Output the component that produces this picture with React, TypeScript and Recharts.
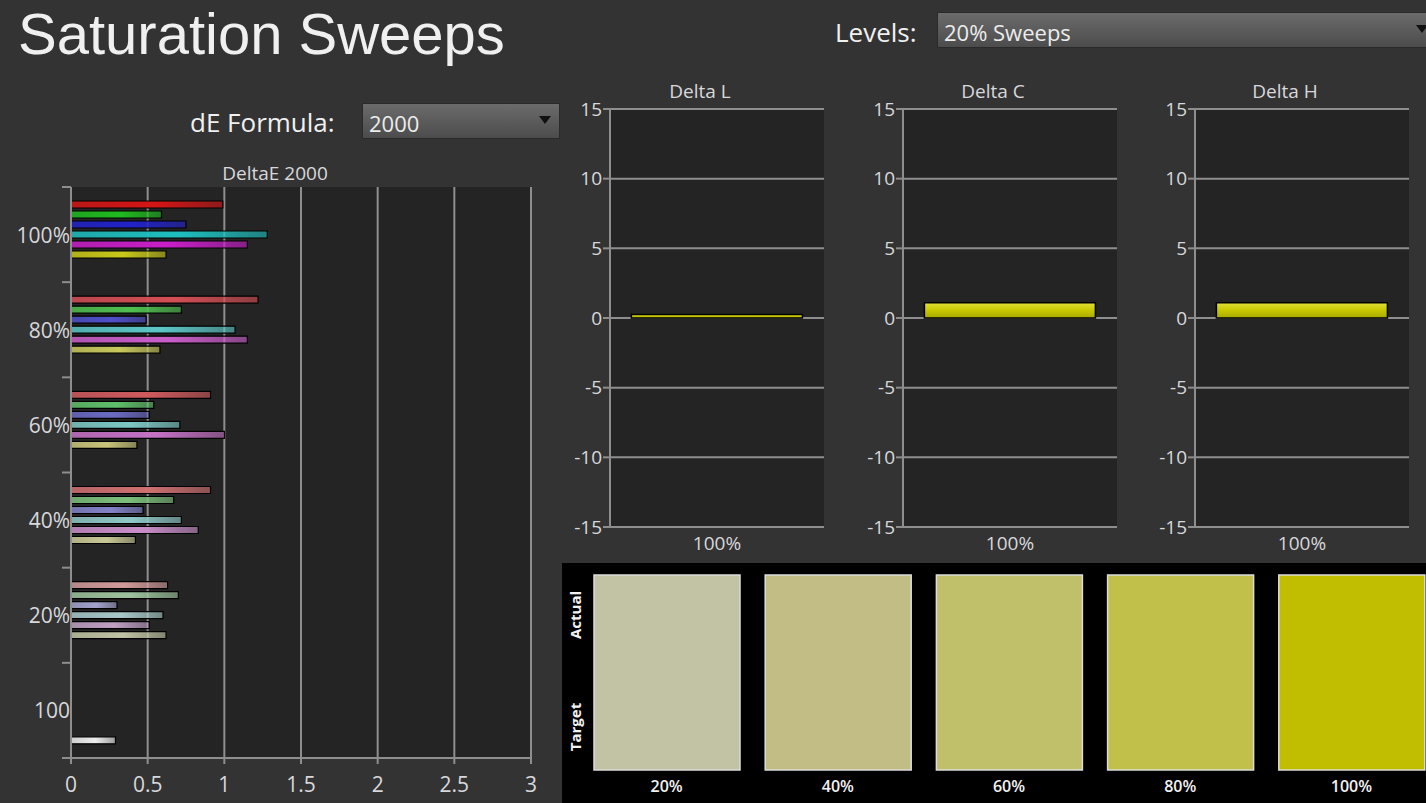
import React from "react";
import { Bar, BarChart, CartesianGrid, Cell, XAxis, YAxis } from "recharts";

// DeltaE 2000 per saturation level, one array per colour series
const LEVELS = ["100%", "80%", "60%", "40%", "20%", "100"];
const SERIES = ["red", "green", "blue", "cyan", "magenta", "yellow", "white"];
const RED = [0.99, 1.22, 0.91, 0.91, 0.63, null];
const GREEN = [0.59, 0.72, 0.54, 0.67, 0.7, null];
const BLUE = [0.75, 0.49, 0.51, 0.47, 0.3, null];
const CYAN = [1.28, 1.07, 0.71, 0.72, 0.6, null];
const MAGENTA = [1.15, 1.15, 1.0, 0.83, 0.51, null];
const YELLOW = [0.62, 0.58, 0.43, 0.42, 0.62, null];
const WHITE = [null, null, null, null, null, 0.29];
const DE_TICKS = [0, 0.5, 1, 1.5, 2, 2.5, 3];

// Delta L / C / H at 100% yellow
const DELTA_NAMES = ["Delta L", "Delta C", "Delta H"];
const DELTA_VALUES = [0.25, 1.1, 1.1];
const DELTA_CATEGORY = "100%";
const DELTA_TICKS = [-15, -10, -5, 0, 5, 10, 15];

// actual / target swatches
const SWATCH_LEVELS = ["20%", "40%", "60%", "80%", "100%"];
const SWATCH_COLORS = ["#c2c3a5", "#c1bd85", "#c0bf6a", "#c0c04b", "#c1bd00"];

const PALETTE: Record<string, string[]> = {
  red: ["#d41515", "#d44e55", "#cf5a5e", "#d07070", "#d09a9a", "#d09a9a"],
  green: ["#1fbb1f", "#4fbf4f", "#5fbf6a", "#7cbf7c", "#9dc39d", "#9dc39d"],
  blue: ["#2222c8", "#4f4fc8", "#6a6ac4", "#8282c8", "#a2a2cc", "#a2a2cc"],
  cyan: ["#1fbfbf", "#5cc6c6", "#7cc8c4", "#8ec8c6", "#a8c8c8", "#a8c8c8"],
  magenta: ["#c81ec8", "#c95ec9", "#c572c5", "#c98ec9", "#c0a0c4", "#c0a0c4"],
  yellow: ["#c8c81a", "#c8c85e", "#c8c47a", "#c8c896", "#c0c4a4", "#c0c4a4"],
  white: ["#e8e8e8", "#e8e8e8", "#e8e8e8", "#e8e8e8", "#e8e8e8", "#ececec"],
};

const PAGE_BG = "#333333";
const PLOT_BG = "#242424";
const GRID = "#8e8e8e";
const TEXT = "#d8d8dc";
const FONT = "'Open Sans', 'Noto Sans', sans-serif";
const TITLE_FONT = "'Liberation Sans', Arial, sans-serif";

const DE_PLOT_H = 571;
const DE_BAND = DE_PLOT_H / LEVELS.length;

const deData = LEVELS.map((level, i) => ({
  level,
  red: RED[i],
  green: GREEN[i],
  blue: BLUE[i],
  cyan: CYAN[i],
  magenta: MAGENTA[i],
  yellow: YELLOW[i],
  white: WHITE[i],
}));

// text placed by its baseline (Open Sans, line height 1.1)
function Text({
  x,
  baseline,
  size,
  children,
  color = TEXT,
  weight = 400,
  anchor = "left",
}: {
  x: number;
  baseline: number;
  size: number;
  children: React.ReactNode;
  color?: string;
  weight?: number;
  anchor?: "left" | "center";
}) {
  return (
    <div
      style={{
        position: "absolute",
        left: anchor === "center" ? x - 200 : x,
        width: anchor === "center" ? 400 : undefined,
        textAlign: anchor === "center" ? "center" : "left",
        top: baseline - 0.938 * size,
        fontSize: size,
        lineHeight: 1.1,
        color,
        fontWeight: weight,
        whiteSpace: "nowrap",
      }}
    >
      {children}
    </div>
  );
}

function Dropdown({
  left,
  top,
  width,
  label,
}: {
  left: number;
  top: number;
  width: number;
  label: string;
}) {
  return (
    <div
      style={{
        position: "absolute",
        left,
        top,
        width,
        height: 36,
        background: "linear-gradient(#6b6b6b, #4c4c4c)",
        border: "1px solid #2a2a2a",
        boxSizing: "border-box",
        color: "#ececec",
        fontSize: 22,
      }}
    >
      <div style={{ position: "absolute", left: 6, top: 4, lineHeight: "normal" }}>
        {label}
      </div>
      <div
        style={{
          position: "absolute",
          right: 8,
          top: 12,
          width: 0,
          height: 0,
          borderLeft: "6px solid transparent",
          borderRight: "6px solid transparent",
          borderTop: "8px solid #111",
        }}
      />
    </div>
  );
}

function LevelTick(props: any) {
  const { x, y, payload, index } = props;
  const ax = x + 1;
  return (
    <g>
      <line
        x1={ax - 9}
        x2={ax}
        y1={y - DE_BAND / 2}
        y2={y - DE_BAND / 2}
        stroke={GRID}
        strokeWidth={2}
      />
      {index === LEVELS.length - 1 && (
        <line
          x1={ax - 9}
          x2={ax}
          y1={y + DE_BAND / 2}
          y2={y + DE_BAND / 2}
          stroke={GRID}
          strokeWidth={2}
        />
      )}
      <text
        x={x}
        y={y}
        dy={8}
        textAnchor="end"
        fill={TEXT}
        fontSize={21}
        fontFamily={FONT}
      >
        {payload.value}
      </text>
    </g>
  );
}

function DeltaEChart() {
  return (
    <div style={{ position: "absolute", left: 0, top: 150 }}>
      <BarChart
        width={560}
        height={653}
        data={deData}
        layout="vertical"
        margin={{ top: 37, right: 29, bottom: 15, left: 8 }}
        barSize={7}
        barGap={3}
      >
        <defs>
          {SERIES.map((s) =>
            PALETTE[s].map((c, i) => (
              <linearGradient
                key={`${s}-${i}`}
                id={`de-${s}-${i}`}
                x1="0"
                x2="1"
                y1="0"
                y2="0"
              >
                <stop offset="0" stopColor={c} stopOpacity={0.85} />
                <stop offset="0.55" stopColor={c} />
                <stop offset="1" stopColor={c} stopOpacity={0.6} />
              </linearGradient>
            ))
          )}
        </defs>
        <CartesianGrid
          horizontal={false}
          fill={PLOT_BG}
          stroke={GRID}
          strokeWidth={2}
        />
        <XAxis
          type="number"
          domain={[0, 3]}
          ticks={DE_TICKS}
          interval={0}
          height={30}
          tickSize={6}
          tickMargin={13}
          axisLine={{ stroke: GRID, strokeWidth: 2 }}
          tickLine={{ stroke: GRID, strokeWidth: 2 }}
          tick={{ fill: TEXT, fontSize: 21, fontFamily: FONT }}
        />
        <XAxis
          xAxisId="top"
          orientation="top"
          type="number"
          domain={[0, 3]}
          height={0}
          tick={false}
          tickLine={false}
          axisLine={{ stroke: GRID, strokeWidth: 2 }}
        />
        <YAxis
          type="category"
          dataKey="level"
          width={63}
          interval={0}
          tickSize={0}
          tickMargin={1}
          tickLine={false}
          axisLine={{ stroke: GRID, strokeWidth: 2 }}
          tick={<LevelTick />}
        />
        {SERIES.map((s) => (
          <Bar
            key={s}
            dataKey={s}
            stroke="#000"
            strokeWidth={1.2}
            isAnimationActive={false}
          >
            {LEVELS.map((_, i) => (
              <Cell key={i} fill={`url(#de-${s}-${i})`} />
            ))}
          </Bar>
        ))}
      </BarChart>
    </div>
  );
}

function DeltaChart({ name, value, left }: { name: string; value: number; left: number }) {
  const data = [{ level: DELTA_CATEGORY, value }];
  return (
    <div style={{ position: "absolute", left, top: 80, width: 280, height: 480 }}>
      <Text x={140} baseline={19} size={19} anchor="center">
        {name}
      </Text>
      <BarChart
        width={280}
        height={480}
        data={data}
        margin={{ top: 29, right: 16, bottom: 3, left: 0 }}
        barCategoryGap="10%"
      >
        <defs>
          <linearGradient id="delta-fill" x1="0" x2="0" y1="0" y2="1">
            <stop offset="0" stopColor="#e2e23a" />
            <stop offset="0.5" stopColor="#c8c800" />
            <stop offset="1" stopColor="#a8a800" />
          </linearGradient>
        </defs>
        <CartesianGrid
          vertical={false}
          fill={PLOT_BG}
          stroke={GRID}
          strokeWidth={2}
        />
        <XAxis
          dataKey="level"
          height={30}
          tickSize={0}
          tickMargin={10}
          tickLine={false}
          axisLine={{ stroke: GRID, strokeWidth: 2 }}
          tick={{ fill: TEXT, fontSize: 19, fontFamily: FONT }}
        />
        <YAxis
          domain={[-15, 15]}
          ticks={DELTA_TICKS}
          interval={0}
          width={50}
          tickSize={7}
          tickMargin={1}
          axisLine={{ stroke: GRID, strokeWidth: 2 }}
          tickLine={{ stroke: GRID, strokeWidth: 2 }}
          tick={{ fill: TEXT, fontSize: 19, fontFamily: FONT }}
        />
        <YAxis
          yAxisId="right"
          orientation="right"
          domain={[-15, 15]}
          width={0}
          tick={false}
          tickLine={false}
          axisLine={{ stroke: GRID, strokeWidth: 2 }}
        />
        <Bar
          dataKey="value"
          fill="url(#delta-fill)"
          stroke="#000"
          strokeWidth={1.5}
          isAnimationActive={false}
        />
      </BarChart>
    </div>
  );
}

function SwatchPanel() {
  const data = SWATCH_LEVELS.map((level) => ({ level, value: 1 }));
  return (
    <div
      style={{
        position: "absolute",
        left: 562,
        top: 563,
        width: 864,
        height: 240,
        background: "#000",
        overflow: "hidden",
      }}
    >
      {[
        { t: "Actual", cy: 52 },
        { t: "Target", cy: 164 },
      ].map(({ t, cy }) => (
        <div
          key={t}
          style={{
            position: "absolute",
            left: 13 - 40,
            top: cy - 10,
            width: 80,
            height: 20,
            lineHeight: "20px",
            textAlign: "center",
            transform: "rotate(-90deg)",
            color: "#f2f2f2",
            fontWeight: 700,
            fontSize: 15,
          }}
        >
          {t}
        </div>
      ))}
      <div style={{ position: "absolute", left: 18.5, top: 0 }}>
        <BarChart
          width={856}
          height={240}
          data={data}
          margin={{ top: 12, right: 0, bottom: 3, left: 0 }}
          barSize={146}
        >
          <XAxis
            dataKey="level"
            height={30}
            interval={0}
            tickSize={0}
            tickMargin={11}
            axisLine={false}
            tickLine={false}
            tick={{ fill: "#f2f2f2", fontSize: 16, fontWeight: 600, fontFamily: FONT }}
          />
          <YAxis hide domain={[0, 1]} />
          <Bar
            dataKey="value"
            stroke="#dcdcdc"
            strokeWidth={1.5}
            isAnimationActive={false}
          >
            {SWATCH_COLORS.map((c, i) => (
              <Cell key={i} fill={c} />
            ))}
          </Bar>
        </BarChart>
      </div>
    </div>
  );
}

export default function App() {
  return (
    <div
      style={{
        position: "fixed",
        left: 0,
        top: 0,
        width: 1426,
        height: 803,
        background: PAGE_BG,
        overflow: "hidden",
        fontFamily: FONT,
        color: TEXT,
      }}
    >
      <div
        style={{
          position: "absolute",
          left: 18,
          top: 0,
          fontFamily: TITLE_FONT,
          fontSize: 58,
          lineHeight: "normal",
          color: "#f0f0f0",
          whiteSpace: "nowrap",
        }}
      >
        Saturation Sweeps
      </div>
      <Text x={835} baseline={42} size={26} color="#f0f0f0">
        Levels:
      </Text>
      <Dropdown left={937} top={12} width={500} label="20% Sweeps" />
      <Text x={190} baseline={132} size={26} color="#f0f0f0">
        dE Formula:
      </Text>
      <Dropdown left={362} top={103} width={198} label="2000" />
      <Text x={275} baseline={181} size={19} anchor="center">
        DeltaE 2000
      </Text>
      <DeltaEChart />
      {DELTA_NAMES.map((name, i) => (
        <DeltaChart
          key={name}
          name={name}
          value={DELTA_VALUES[i]}
          left={[560, 853, 1145][i]}
        />
      ))}
      <SwatchPanel />
    </div>
  );
}
